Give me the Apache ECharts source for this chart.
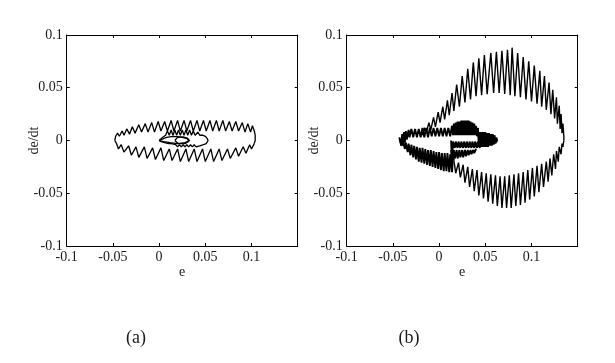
<!DOCTYPE html>
<html>
<head>
<meta charset="utf-8">
<script src="https://cdn.jsdelivr.net/npm/echarts@6/dist/echarts.min.js"></script>
<style>
  html, body { margin: 0; padding: 0; background: #fff; }
  #chart { width: 615px; height: 363px; }
</style>
</head>
<body>
<div id="chart"></div>
<script>
// axis ranges and tick labels (both panels share them)
const eTicks = [-0.1, -0.05, 0, 0.05, 0.1]
const dTicks = [-0.1, -0.05, 0, 0.05, 0.1]
const captions = ['(a)', '(b)']

// panel (a): phase trajectory [e, de/dt]
const aOuterTop = [[-0.048,0.000],[-0.047,0.004],[-0.045,0.007],[-0.043,0.004],[-0.040,0.009],[-0.038,0.005],[-0.035,0.011],[-0.032,0.006],[-0.029,0.013],[-0.026,0.007],[-0.022,0.015],[-0.019,0.008],[-0.015,0.016],[-0.012,0.008],[-0.008,0.017],[-0.005,0.008],[-0.001,0.018],[0.002,0.009],[0.006,0.018],[0.009,0.009],[0.013,0.019],[0.016,0.009],[0.020,0.019],[0.023,0.009],[0.027,0.019],[0.030,0.009],[0.034,0.019],[0.037,0.009],[0.041,0.019],[0.044,0.009],[0.048,0.019],[0.051,0.009],[0.055,0.019],[0.058,0.009],[0.062,0.019],[0.065,0.009],[0.069,0.019],[0.072,0.009],[0.076,0.018],[0.079,0.009],[0.083,0.018],[0.086,0.009],[0.090,0.017],[0.093,0.008],[0.096,0.016],[0.099,0.008],[0.101,0.014],[0.103,0.009],[0.104,0.005],[0.104,0.000],[0.103,-0.003]]
const aOuterBottom = [[0.103,-0.003],[0.100,-0.008],[0.098,-0.004],[0.094,-0.012],[0.091,-0.006],[0.086,-0.015],[0.083,-0.007],[0.077,-0.017],[0.074,-0.008],[0.068,-0.019],[0.065,-0.008],[0.059,-0.020],[0.056,-0.008],[0.050,-0.020],[0.047,-0.008],[0.041,-0.020],[0.038,-0.008],[0.032,-0.020],[0.029,-0.008],[0.023,-0.020],[0.020,-0.008],[0.014,-0.019],[0.011,-0.008],[0.005,-0.019],[0.002,-0.007],[-0.004,-0.018],[-0.007,-0.007],[-0.013,-0.017],[-0.016,-0.006],[-0.022,-0.016],[-0.025,-0.006],[-0.030,-0.014],[-0.033,-0.005],[-0.038,-0.011],[-0.041,-0.004],[-0.044,-0.008],[-0.046,-0.003],[-0.048,0.000]]
const aInner = [[0.000,0.000],[0.004,0.003],[0.007,0.005],[0.009,0.009],[0.011,0.005],[0.013,0.010],[0.015,0.005],[0.017,0.010],[0.019,0.005],[0.021,0.010],[0.023,0.005],[0.025,0.010],[0.027,0.005],[0.029,0.010],[0.031,0.005],[0.033,0.010],[0.035,0.005],[0.037,0.009],[0.039,0.005],[0.042,0.008],[0.044,0.005],[0.047,0.005],[0.050,0.004],[0.052,0.002],[0.053,0.000],[0.051,-0.003],[0.048,-0.004],[0.046,-0.003],[0.044,-0.005],[0.042,-0.004],[0.040,-0.006],[0.038,-0.004],[0.036,-0.006],[0.034,-0.004],[0.032,-0.006],[0.030,-0.004],[0.028,-0.006],[0.026,-0.004],[0.024,-0.006],[0.022,-0.004],[0.020,-0.006],[0.018,-0.004],[0.016,-0.005],[0.013,-0.003],[0.010,-0.003],[0.006,-0.002],[0.002,-0.001],[0.000,0.000]]
const aLeaf = [[0.000,0.000],[0.008,0.003],[0.015,0.004],[0.022,0.0035],[0.030,0.002],[0.033,0.000],[0.028,-0.002],[0.020,-0.003],[0.012,-0.002],[0.005,-0.001],[0.000,0.000]]
const aCore = [[0.017,0.000],[0.020,0.003],[0.026,0.0035],[0.031,0.002],[0.032,-0.001],[0.028,-0.003],[0.021,-0.003],[0.017,0.000]]

// panel (b)
const bUpper = [[-0.018,0.005],[-0.016,0.012],[-0.014,0.007],[-0.011,0.017],[-0.009,0.010],[-0.006,0.022],[-0.004,0.013],[-0.001,0.027],[0.001,0.017],[0.004,0.032],[0.006,0.020],[0.009,0.038],[0.011,0.024],[0.014,0.045],[0.016,0.028],[0.019,0.053],[0.022,0.032],[0.025,0.061],[0.028,0.036],[0.031,0.068],[0.034,0.039],[0.037,0.074],[0.040,0.042],[0.043,0.078],[0.046,0.043],[0.049,0.081],[0.052,0.044],[0.056,0.083],[0.059,0.045],[0.062,0.084],[0.065,0.045],[0.068,0.085],[0.071,0.044],[0.074,0.086],[0.077,0.043],[0.079,0.088],[0.082,0.042],[0.085,0.083],[0.088,0.041],[0.091,0.079],[0.094,0.039],[0.097,0.075],[0.100,0.037],[0.103,0.071],[0.106,0.035],[0.109,0.066],[0.111,0.032],[0.114,0.061],[0.116,0.029],[0.119,0.055],[0.121,0.025],[0.123,0.048],[0.125,0.021],[0.127,0.041],[0.128,0.016],[0.130,0.033],[0.131,0.011],[0.132,0.025],[0.133,0.007],[0.134,0.016],[0.135,0.004],[0.135,0.000]]
const bLower = [[0.135,0.000],[0.134,-0.006],[0.133,-0.003],[0.132,-0.013],[0.130,-0.006],[0.129,-0.020],[0.127,-0.010],[0.126,-0.027],[0.124,-0.013],[0.122,-0.033],[0.120,-0.017],[0.118,-0.039],[0.116,-0.020],[0.113,-0.044],[0.111,-0.022],[0.108,-0.049],[0.106,-0.024],[0.103,-0.053],[0.101,-0.026],[0.098,-0.056],[0.096,-0.028],[0.093,-0.059],[0.091,-0.030],[0.088,-0.061],[0.086,-0.031],[0.083,-0.062],[0.081,-0.032],[0.078,-0.064],[0.076,-0.033],[0.073,-0.064],[0.071,-0.034],[0.068,-0.064],[0.066,-0.034],[0.063,-0.062],[0.061,-0.033],[0.058,-0.060],[0.056,-0.032],[0.053,-0.058],[0.051,-0.031],[0.048,-0.055],[0.046,-0.030],[0.043,-0.052],[0.041,-0.028],[0.038,-0.048],[0.036,-0.027],[0.033,-0.044],[0.031,-0.025],[0.028,-0.040],[0.026,-0.023],[0.023,-0.035],[0.021,-0.021],[0.018,-0.031],[0.016,-0.019]]
const bBand = [[0.016,-0.019],[0.015,-0.013],[0.014,-0.030],[0.012,-0.013],[0.011,-0.030],[0.009,-0.012],[0.008,-0.029],[0.006,-0.012],[0.005,-0.029],[0.003,-0.012],[0.002,-0.028],[0.000,-0.011],[-0.001,-0.027],[-0.003,-0.011],[-0.004,-0.026],[-0.006,-0.010],[-0.007,-0.025],[-0.009,-0.009],[-0.010,-0.024],[-0.012,-0.009],[-0.013,-0.023],[-0.015,-0.008],[-0.016,-0.022],[-0.018,-0.007],[-0.019,-0.021],[-0.021,-0.007],[-0.022,-0.020],[-0.024,-0.006],[-0.025,-0.018],[-0.027,-0.005],[-0.028,-0.016],[-0.030,-0.004],[-0.031,-0.014],[-0.033,-0.003],[-0.034,-0.011],[-0.036,-0.002],[-0.037,-0.008],[-0.039,-0.001],[-0.040,-0.005]]
const bRingTop = [[-0.040,-0.005],[-0.042,-0.002],[-0.043,0.003],[-0.041,-0.005],[-0.040,0.006],[-0.039,-0.004],[-0.038,0.008],[-0.037,-0.002],[-0.036,0.009],[-0.035,0.001],[-0.033,0.010],[-0.032,0.003],[-0.030,0.011],[-0.028,0.003],[-0.026,0.011],[-0.024,0.003],[-0.022,0.011],[-0.020,0.003],[-0.018,0.012],[-0.016,0.003],[-0.014,0.012],[-0.012,0.003],[-0.010,0.012],[-0.008,0.004],[-0.006,0.012],[-0.004,0.004],[-0.002,0.012],[0.000,0.004],[0.002,0.012],[0.004,0.004],[0.006,0.012],[0.008,0.004],[0.010,0.012],[0.012,0.004],[0.014,0.014],[0.015,0.005],[0.016,0.016],[0.017,0.005],[0.018,0.017],[0.019,0.005],[0.020,0.018],[0.021,0.005],[0.022,0.018],[0.023,0.005],[0.024,0.019],[0.025,0.005],[0.026,0.019],[0.027,0.005],[0.028,0.019],[0.029,0.005],[0.030,0.019],[0.031,0.005],[0.032,0.019],[0.033,0.005],[0.034,0.018],[0.035,0.005],[0.036,0.017],[0.037,0.005],[0.038,0.016],[0.039,0.005],[0.040,0.014],[0.041,0.004],[0.042,0.012]]
const bTongue = [[0.042,0.012],[0.043,-0.005],[0.044,0.008],[0.045,-0.006],[0.046,0.008],[0.047,-0.006],[0.048,0.008],[0.049,-0.006],[0.050,0.008],[0.051,-0.006],[0.052,0.007],[0.053,-0.006],[0.054,0.007],[0.055,-0.005],[0.056,0.006],[0.057,-0.005],[0.058,0.006],[0.059,-0.004],[0.060,0.005],[0.061,-0.003],[0.062,0.003],[0.063,-0.001]]
const bRingMid = [[0.063,-0.001],[0.045,-0.002],[0.044,-0.007],[0.042,-0.001],[0.041,-0.007],[0.039,-0.001],[0.038,-0.007],[0.036,-0.001],[0.035,-0.007],[0.033,-0.001],[0.032,-0.007],[0.030,-0.001],[0.029,-0.007],[0.027,-0.001],[0.026,-0.007],[0.024,-0.001],[0.023,-0.007],[0.021,-0.001],[0.020,-0.007],[0.018,-0.001],[0.017,-0.007],[0.015,-0.001],[0.014,-0.020],[0.013,0.000]]
const bRingLow = [[0.013,-0.009],[0.014,-0.018],[0.016,-0.009],[0.017,-0.017],[0.019,-0.009],[0.020,-0.017],[0.022,-0.009],[0.023,-0.016],[0.025,-0.009],[0.026,-0.016],[0.028,-0.009],[0.029,-0.015],[0.031,-0.009],[0.032,-0.014],[0.034,-0.009],[0.035,-0.013],[0.037,-0.009],[0.038,-0.012],[0.040,-0.008]]

const panelA = [aOuterTop, aOuterBottom, aInner, aLeaf, aCore]
const panelB = [bUpper, bLower]
const panelBDense = [bBand, bRingTop, bTongue, bRingMid, bRingLow]

const serif = "'Liberation Serif', 'Times New Roman', serif"
const lefts = [66.7, 346.7]

const chart = echarts.init(document.getElementById('chart'), null, { renderer: 'canvas' })

const grids = lefts.map(l => ({ left: l, top: 35, width: 231, height: 211, show: false }))

const xAxes = []
const yAxes = []
lefts.forEach((l, i) => {
  // bottom axis with labels
  xAxes.push({
    type: 'value', gridIndex: i, position: 'bottom',
    min: -0.1, max: 0.15, interval: 0.05,
    name: 'e', nameLocation: 'middle', nameGap: 19, nameMoveOverlap: false,
    nameTextStyle: { fontFamily: serif, fontSize: 14, color: '#1a1a1a' },
    axisLine: { show: true, onZero: false, lineStyle: { color: '#000', width: 1 } },
    axisTick: { show: true, inside: true, length: 3, lineStyle: { color: '#000' } },
    axisLabel: {
      margin: 4, fontFamily: serif, fontSize: 14, color: '#1a1a1a',
      formatter: v => eTicks.some(t => Math.abs(t - v) < 1e-9) ? String(+v.toFixed(2)) : ''
    },
    splitLine: { show: false }
  })
  // top mirror axis (frame + ticks)
  xAxes.push({
    type: 'value', gridIndex: i, position: 'top',
    min: -0.1, max: 0.15, interval: 0.05,
    axisLine: { show: true, onZero: false, lineStyle: { color: '#000', width: 1 } },
    axisTick: { show: true, inside: true, length: 3, lineStyle: { color: '#000' } },
    axisLabel: { show: false },
    splitLine: { show: false }
  })
  yAxes.push({
    type: 'value', gridIndex: i, position: 'left',
    min: -0.1, max: 0.1, interval: 0.05,
    name: 'de/dt', nameLocation: 'middle', nameGap: 25, nameRotate: 90, nameMoveOverlap: false,
    nameTextStyle: { fontFamily: serif, fontSize: 14, color: '#1a1a1a' },
    axisLine: { show: true, onZero: false, lineStyle: { color: '#000', width: 1 } },
    axisTick: { show: true, inside: true, length: 3, lineStyle: { color: '#000' } },
    axisLabel: {
      margin: 4, fontFamily: serif, fontSize: 14, color: '#1a1a1a',
      formatter: v => dTicks.some(t => Math.abs(t - v) < 1e-9) ? String(+v.toFixed(2)) : ''
    },
    splitLine: { show: false }
  })
  yAxes.push({
    type: 'value', gridIndex: i, position: 'right',
    min: -0.1, max: 0.1, interval: 0.05,
    axisLine: { show: true, onZero: false, lineStyle: { color: '#000', width: 1 } },
    axisTick: { show: true, inside: true, length: 3, lineStyle: { color: '#000' } },
    axisLabel: { show: false },
    splitLine: { show: false }
  })
})

const makeSeries = (paths, i, width) => paths.map(p => ({
  type: 'line',
  xAxisIndex: i * 2,
  yAxisIndex: i * 2,
  data: p,
  symbol: 'none',
  silent: true,
  lineStyle: { color: '#000', width: width },
  z: 3
}))

const options = {
  animation: false,
  backgroundColor: '#fff',
  title: captions.map((c, i) => ({
    text: c,
    left: [131, 404][i], top: 324,
    textAlign: 'center',
    textStyle: { fontFamily: serif, fontSize: 18, fontWeight: 'normal', color: '#1a1a1a' }
  })),
  grid: grids,
  xAxis: xAxes,
  yAxis: yAxes,
  series: [
    ...makeSeries(panelA, 0, 1.3),
    ...makeSeries(panelB, 1, 1.4),
    ...makeSeries(panelBDense, 1, 1.9)
  ]
}

chart.setOption(options)
</script>
</body>
</html>
